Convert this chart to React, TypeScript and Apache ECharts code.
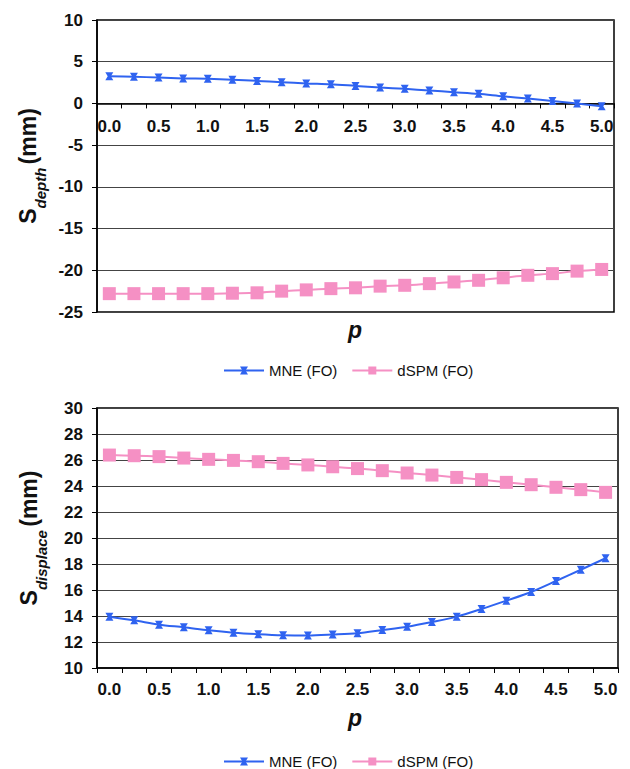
import React, { useEffect, useRef } from "react";
import * as echarts from "echarts";

const pValues = ["0.00","0.25","0.50","0.75","1.00","1.25","1.50","1.75","2.00","2.25","2.50","2.75","3.00","3.25","3.50","3.75","4.00","4.25","4.50","4.75","5.00"];

const depthMNE = [3.25,3.2,3.1,3.0,2.95,2.85,2.7,2.55,2.4,2.3,2.1,1.9,1.75,1.55,1.35,1.15,0.85,0.6,0.3,0.0,-0.35];
const depthDSPM = [-22.8,-22.8,-22.8,-22.8,-22.8,-22.75,-22.7,-22.5,-22.35,-22.2,-22.1,-21.9,-21.8,-21.6,-21.4,-21.2,-20.9,-20.6,-20.4,-20.1,-19.9];
const dispMNE = [13.95,13.67,13.33,13.13,12.9,12.72,12.6,12.52,12.5,12.57,12.67,12.92,13.18,13.54,13.95,14.54,15.18,15.85,16.69,17.56,18.44];
const dispDSPM = [26.38,26.33,26.26,26.15,26.05,25.97,25.87,25.74,25.62,25.48,25.34,25.18,25.0,24.84,24.66,24.49,24.28,24.1,23.9,23.72,23.51];

const seriesNames = ["MNE (FO)", "dSPM (FO)"];
const xTitle = "p";

const BLUE = "#2f63f0";
const PINK = "#f590c4";
const FONT = "Liberation Sans, Arial, sans-serif";
const MNE_SYMBOL = "path://M0,0 L10,0 L7,5 L10,10 L0,10 L3,5 Z";

const TOP_GRID = { left: 97, top: 20, height: 292 };
const TOP_MIN = -25;
const TOP_MAX = 10;

export default function App() {
  const ref = useRef<HTMLDivElement>(null);
  useEffect(() => {
    if (!ref.current) return;
    const chart = echarts.init(ref.current, null, { renderer: "svg" });

    const xAxisBase = (gridIndex: number, margin: number, offset: number) => ({
      type: "category",
      gridIndex,
      data: pValues,
      boundaryGap: true,
      position: "bottom",
      offset,
      axisLine: { onZero: false, lineStyle: { color: "#000", width: 1.5 } },
      axisTick: { show: true, interval: 0, length: 5, lineStyle: { color: "#000", width: 1 } },
      axisLabel: {
        interval: 1,
        margin,
        color: "#111",
        fontFamily: FONT,
        fontWeight: "bold",
        fontSize: 17,
        formatter: (v: string) => Number(v).toFixed(1),
      },
      splitLine: { show: false },
    });

    const yAxisBase = (gridIndex: number, min: number, max: number, interval: number, sub: string) => ({
      type: "value",
      gridIndex,
      min,
      max,
      interval,
      axisLine: { show: true, onZero: false, lineStyle: { color: "#000", width: 1.5 } },
      axisTick: { show: true, length: 5, lineStyle: { color: "#000" } },
      axisLabel: {
        margin: 14,
        color: "#111",
        fontFamily: FONT,
        fontWeight: "bold",
        fontSize: 17,
      },
      splitLine: { show: true, lineStyle: { color: "#444", width: 1.2 } },
      name: `{s|S}{sub|${sub}} {s|(mm)}`,
      nameLocation: "middle",
      nameRotate: 90,
      nameGap: 54,
      nameTextStyle: {
        rich: {
          s: { fontFamily: FONT, fontWeight: "bold", fontSize: 23, color: "#111", lineHeight: 28 },
          sub: {
            fontFamily: FONT,
            fontWeight: "bold",
            fontStyle: "italic",
            fontSize: 15,
            color: "#111",
            verticalAlign: "bottom",
            lineHeight: 16,
            padding: [0, 0, -6, 0],
          },
        },
      },
    });

    const mkSeries = (xi: number, data: number[], name: string, isMNE: boolean) => ({
      type: "line",
      name,
      xAxisIndex: xi,
      yAxisIndex: xi,
      data,
      smooth: 0.3,
      symbol: isMNE ? MNE_SYMBOL : "rect",
      symbolSize: isMNE ? 8 : 13,
      showSymbol: true,
      lineStyle: { color: isMNE ? BLUE : PINK, width: 2 },
      itemStyle: { color: isMNE ? BLUE : PINK },
    });

    const legendBase = (top: number) => ({
      top,
      left: 218,
      itemWidth: 40,
      itemHeight: 10,
      itemGap: 14,
      data: seriesNames,
      textStyle: { fontFamily: FONT, fontSize: 15, color: "#111" },
      selectedMode: false,
    });

    // shift top x axis up so it crosses at y = 0
    const zeroOffset = -(TOP_GRID.height * (0 - TOP_MIN)) / (TOP_MAX - TOP_MIN);

    chart.setOption({
      animation: false,
      backgroundColor: "#fff",
      grid: [
        { ...TOP_GRID, right: 16, show: true, borderColor: "#000", borderWidth: 1.5, backgroundColor: "transparent" },
        { left: 97, top: 408, right: 12, height: 260, show: true, borderColor: "#000", borderWidth: 1.5, backgroundColor: "transparent" },
      ],
      xAxis: [xAxisBase(0, 15, zeroOffset), xAxisBase(1, 13, 0)],
      yAxis: [
        yAxisBase(0, TOP_MIN, TOP_MAX, 5, "depth"),
        yAxisBase(1, 10, 30, 2, "displace"),
      ],
      legend: [legendBase(358), legendBase(749)],
      series: [
        mkSeries(0, depthMNE, seriesNames[0], true),
        mkSeries(0, depthDSPM, seriesNames[1], false),
        mkSeries(1, dispMNE, seriesNames[0], true),
        mkSeries(1, dispDSPM, seriesNames[1], false),
      ],
      graphic: [
        {
          type: "text",
          left: 348,
          top: 318,
          style: { text: xTitle, font: `italic bold 23px ${FONT}`, fill: "#111" },
        },
        {
          type: "text",
          left: 348,
          top: 706,
          style: { text: xTitle, font: `italic bold 23px ${FONT}`, fill: "#111" },
        },
      ],
    });
    return () => chart.dispose();
  }, []);
  return (
    <div
      ref={ref}
      style={{ position: "absolute", left: 0, top: 0, width: 630, height: 769 }}
    />
  );
}
